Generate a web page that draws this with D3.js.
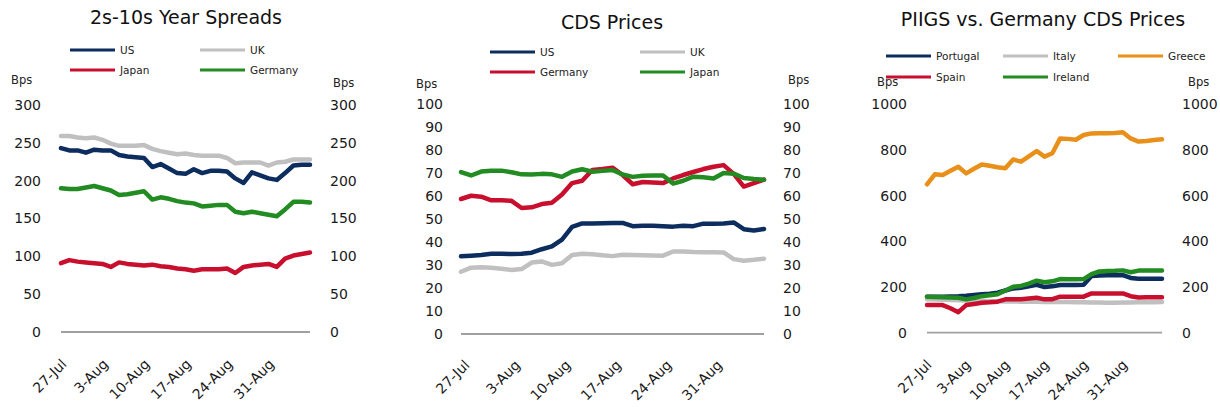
<!DOCTYPE html>
<html>
<head>
<meta charset="utf-8">
<script src="https://cdn.jsdelivr.net/npm/d3@7/dist/d3.min.js"></script>
<style>
  body { margin: 0; background: #fff; }
  svg { display: block; font-family: "DejaVu Sans", Verdana, sans-serif; }
</style>
</head>
<body>
<svg id="chart" width="1220" height="407"></svg>
<script>
  // business days, 27-Jul to 7-Sep
  var dates = ['27-Jul', '28-Jul', '29-Jul', '30-Jul', '31-Jul',
    '3-Aug', '4-Aug', '5-Aug', '6-Aug', '7-Aug',
    '10-Aug', '11-Aug', '12-Aug', '13-Aug', '14-Aug',
    '17-Aug', '18-Aug', '19-Aug', '20-Aug', '21-Aug',
    '24-Aug', '25-Aug', '26-Aug', '27-Aug', '28-Aug',
    '31-Aug', '1-Sep', '2-Sep', '3-Sep', '4-Sep', '7-Sep'];
  var tickLabels = ['27-Jul', '3-Aug', '10-Aug', '17-Aug', '24-Aug', '31-Aug'];

  // 2s-10s year spreads (bps)
  var spreadUS = [243, 240, 240, 237, 241, 240, 240, 234, 232, 231, 230, 218, 222, 216, 210, 209,
    215, 210, 213, 213, 212, 203, 197, 211, 207, 203, 201, 210, 220, 221, 221];
  var spreadUK = [259, 259, 257, 256, 257, 254, 249, 246, 246, 246, 247, 242, 239, 237, 235, 236,
    234, 233, 233, 233, 230, 223, 224, 224, 224, 220, 224, 225, 228, 228, 228];
  var spreadJapan = [91, 95, 93, 92, 91, 90, 86, 92, 90, 89, 88, 89, 87, 86, 84, 83,
    81, 83, 83, 83, 84, 78, 86, 88, 89, 90, 86, 97, 101, 103, 105];
  var spreadGermany = [190, 189, 189, 191, 193, 190, 187, 181, 182, 184, 186, 175, 178, 176, 173, 171,
    170, 166, 167, 168, 168, 159, 157, 159, 157, 155, 153, 162, 172, 172, 171];

  // CDS prices (bps)
  var cdsUS = [33.7, 34, 34.3, 34.8, 34.8, 34.7, 34.8, 35.3, 36.8, 38, 41, 46.5, 48, 48, 48.1, 48.2,
    48.2, 46.8, 47, 47, 46.8, 46.6, 47, 46.8, 47.9, 47.9, 48, 48.4, 45.5, 44.9, 45.6];
  var cdsUK = [27, 28.8, 29, 28.8, 28.3, 27.8, 28.2, 31, 31.5, 30, 30.7, 34.3, 34.8, 34.6, 34.2, 33.8,
    34.4, 34.3, 34.2, 34.1, 34, 35.8, 35.8, 35.6, 35.5, 35.5, 35.4, 32.5, 31.8, 32.2, 32.7];
  var cdsGermany = [58.6, 60, 59.6, 58, 58, 57.8, 54.7, 55, 56.4, 57, 60.5, 65.5, 66.5, 71.2, 71.6, 72.2,
    69, 65, 66, 65.8, 65.5, 67.5, 69, 70.3, 71.6, 72.6, 73.3, 69.5, 64, 65.5, 67];
  var cdsJapan = [70.3, 68.8, 70.5, 70.9, 70.9, 70.2, 69.3, 69.2, 69.5, 69.3, 68.2, 70.5, 71.5, 70.4, 70.8, 71.2,
    69.2, 68.2, 68.7, 68.8, 68.8, 65.3, 66.5, 68.3, 68, 67.5, 69.9, 69.6, 67.7, 67.3, 67];

  // PIIGS vs. Germany CDS prices (bps)
  var cdsPortugal = [158, 158, 158, 159, 160, 162, 165, 168, 171, 175, 185, 194, 197, 203, 210, 200,
    203, 209, 209, 209, 210, 248, 251, 252, 252, 252, 240, 236, 236, 236, 236];
  var cdsItaly = [146, 145, 144, 143, 142, 141, 140, 139, 138, 138, 137, 137, 136, 136, 136, 135,
    135, 134, 134, 133, 133, 132, 132, 131, 131, 132, 132, 133, 133, 133, 134];
  var cdsGreece = [650, 694, 691, 709, 727, 698, 718, 737, 731, 725, 720, 759, 749, 772, 796, 771,
    786, 851, 849, 845, 866, 873, 874, 874, 875, 878, 851, 837, 840, 844, 847];
  var cdsSpain = [121, 121, 121, 107, 90, 121, 126, 131, 133, 136, 146, 146, 147, 150, 153, 146,
    147, 158, 158, 158, 158, 172, 172, 172, 172, 172, 160, 154, 155, 155, 155];
  var cdsIreland = [157, 156, 155, 154, 153, 146, 152, 160, 164, 168, 185, 201, 205, 215, 228, 221,
    225, 235, 234, 234, 235, 257, 268, 270, 271, 273, 265, 272, 272, 272, 272];

  var NAVY = '#0c2d5e', GREY = '#c0c0c0', RED = '#c8102e', GREEN = '#228b22', ORANGE = '#e8901a';

  var svg = d3.select('#chart');

  function drawPanel(cfg) {
    var g = svg.append('g');

    var x = d3.scalePoint().domain(dates).range([cfg.x0, cfg.x1]);
    var y = d3.scaleLinear().domain([0, cfg.max]).range([cfg.yBase, cfg.yTop]);
    var ticks = d3.range(0, cfg.max + cfg.step / 2, cfg.step);

    g.append('text')
      .attr('x', cfg.titleX)
      .attr('y', cfg.titleY)
      .attr('text-anchor', 'middle')
      .style('font-size', '19px')
      .style('fill', '#111')
      .text(cfg.title);

    // legend, filled row by row
    cfg.series.forEach(function (s, i) {
      var col = i % cfg.legendCols.length;
      var row = Math.floor(i / cfg.legendCols.length);
      var lx = cfg.legendCols[col];
      var ly = cfg.legendRows[row];
      g.append('line')
        .attr('x1', lx).attr('x2', lx + 45)
        .attr('y1', ly).attr('y2', ly)
        .attr('stroke', s.color)
        .attr('stroke-width', 3);
      g.append('text')
        .attr('x', lx + 50)
        .attr('y', ly)
        .attr('dy', '0.35em')
        .style('font-size', '10.5px')
        .style('fill', '#222')
        .text(s.name);
    });

    g.append('text').attr('x', cfg.bpsLeft[0]).attr('y', cfg.bpsLeft[1])
      .style('font-size', '11.5px').style('fill', '#222').text('Bps');
    g.append('text').attr('x', cfg.bpsRight[0]).attr('y', cfg.bpsRight[1])
      .style('font-size', '11.5px').style('fill', '#222').text('Bps');

    var fmt = d3.format('d');
    var left = g.append('g')
      .attr('transform', 'translate(' + cfg.leftLabelX + ',0)')
      .call(d3.axisLeft(y).tickValues(ticks).tickFormat(fmt).tickSize(0).tickPadding(0));
    var right = g.append('g')
      .attr('transform', 'translate(' + cfg.rightLabelX + ',0)')
      .call(d3.axisRight(y).tickValues(ticks).tickFormat(fmt).tickSize(0).tickPadding(0));
    [left, right].forEach(function (a) {
      a.select('.domain').remove();
      a.selectAll('text')
        .style('font-size', '14px')
        .style('font-family', '"DejaVu Sans", Verdana, sans-serif')
        .style('fill', '#1a1a1a');
    });

    g.append('line')
      .attr('x1', cfg.x0).attr('x2', cfg.x1)
      .attr('y1', y(0)).attr('y2', y(0))
      .attr('stroke', '#a0a0a0')
      .attr('stroke-width', 1.8);

    var bottom = g.append('g')
      .attr('transform', 'translate(0,' + y(0) + ')')
      .call(d3.axisBottom(x).tickValues(tickLabels).tickSize(0));
    bottom.select('.domain').remove();
    bottom.selectAll('text')
      .attr('x', 0).attr('y', 0).attr('dy', 0)
      .attr('transform', 'translate(' + cfg.labelDx + ',' + cfg.labelDy + ') rotate(-45)')
      .style('text-anchor', 'end')
      .style('font-size', '14px')
      .style('font-family', '"DejaVu Sans", Verdana, sans-serif')
      .style('fill', '#1a1a1a');

    var line = d3.line()
      .x(function (d, i) { return x(dates[i]); })
      .y(function (d) { return y(d); });

    cfg.series.forEach(function (s) {
      g.append('path')
        .datum(s.values)
        .attr('d', line)
        .attr('fill', 'none')
        .attr('stroke', s.color)
        .attr('stroke-width', 4.5)
        .attr('stroke-linejoin', 'round')
        .attr('stroke-linecap', 'round');
    });
  }

  drawPanel({
    title: '2s-10s Year Spreads', titleX: 186, titleY: 24,
    x0: 61, x1: 310, yBase: 332, yTop: 105, max: 300, step: 50,
    leftLabelX: 41, rightLabelX: 330,
    bpsLeft: [11, 84], bpsRight: [333, 87],
    labelDx: 6, labelDy: 33,
    legendCols: [70, 200], legendRows: [50, 70],
    series: [
      { name: 'US', color: NAVY, values: spreadUS },
      { name: 'UK', color: GREY, values: spreadUK },
      { name: 'Japan', color: RED, values: spreadJapan },
      { name: 'Germany', color: GREEN, values: spreadGermany }
    ]
  });

  drawPanel({
    title: 'CDS Prices', titleX: 612, titleY: 29,
    x0: 461, x1: 764, yBase: 334, yTop: 103.6, max: 100, step: 10,
    leftLabelX: 443, rightLabelX: 783,
    bpsLeft: [416, 88], bpsRight: [788, 84],
    labelDx: 9, labelDy: 32,
    legendCols: [490, 640], legendRows: [52, 72],
    series: [
      { name: 'US', color: NAVY, values: cdsUS },
      { name: 'UK', color: GREY, values: cdsUK },
      { name: 'Germany', color: RED, values: cdsGermany },
      { name: 'Japan', color: GREEN, values: cdsJapan }
    ]
  });

  drawPanel({
    title: 'PIIGS vs. Germany CDS Prices', titleX: 1043, titleY: 26,
    x0: 927, x1: 1162, yBase: 332.7, yTop: 104.4, max: 1000, step: 200,
    leftLabelX: 907, rightLabelX: 1182,
    bpsLeft: [877, 86], bpsRight: [1188, 86],
    labelDx: 5, labelDy: 33,
    legendCols: [886, 1003, 1118], legendRows: [56, 77],
    series: [
      { name: 'Portugal', color: NAVY, values: cdsPortugal },
      { name: 'Italy', color: GREY, values: cdsItaly },
      { name: 'Greece', color: ORANGE, values: cdsGreece },
      { name: 'Spain', color: RED, values: cdsSpain },
      { name: 'Ireland', color: GREEN, values: cdsIreland }
    ]
  });
</script>
</body>
</html>
